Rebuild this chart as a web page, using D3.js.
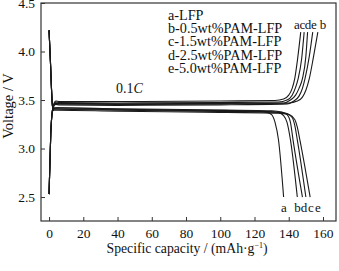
<!DOCTYPE html>
<html>
<head>
<meta charset="utf-8">
<script src="https://cdn.jsdelivr.net/npm/d3@7"></script>
<style>
  body { margin: 0; background: #fff; }
  text { font-family: "Liberation Serif", "Times New Roman", serif; fill: #111; }
</style>
</head>
<body>
<svg width="339" height="271"></svg>
<script>
// charge / discharge curves, [capacity mAh/g, voltage V]
var names = ["a", "b", "c", "d", "e"];
var legendLabels = ["a-LFP", "b-0.5wt%PAM-LFP", "c-1.5wt%PAM-LFP", "d-2.5wt%PAM-LFP", "e-5.0wt%PAM-LFP"];
var xTicks = [0, 20, 40, 60, 80, 100, 120, 140, 160];
var yTicks = [2.5, 3.0, 3.5, 4.0, 4.5];

var chargeA = [[0,2.53],[1,3.15],[2,3.40],[3,3.47],[4,3.49],[6,3.485],[40,3.485],[100,3.49],[132,3.495],[137,3.51],[140,3.55],[142,3.62],[143.5,3.72],[145,3.9],[147,4.2]];
var chargeB = [[0,2.53],[1,3.15],[2,3.39],[3,3.45],[4,3.465],[6,3.46],[40,3.455],[100,3.46],[140,3.47],[145,3.49],[148,3.53],[150,3.6],[152,3.72],[154.5,3.95],[157,4.2]];
var chargeC = [[0,2.53],[1,3.15],[2,3.40],[3,3.46],[4,3.48],[6,3.475],[40,3.47],[100,3.475],[134,3.48],[139,3.5],[142,3.55],[144,3.63],[145.5,3.72],[147.5,3.92],[149,4.2]];
var chargeD = [[0,2.53],[1,3.15],[2,3.40],[3,3.455],[4,3.47],[6,3.465],[40,3.46],[100,3.465],[137,3.47],[141,3.5],[144,3.55],[146,3.62],[148,3.72],[150,3.95],[151,4.2]];
var chargeE = [[0,2.53],[1,3.15],[2,3.39],[3,3.445],[4,3.455],[6,3.45],[40,3.445],[100,3.45],[139,3.46],[143,3.49],[146,3.54],[148,3.62],[149.5,3.72],[152,3.95],[154,4.2]];

var dischargeA = [[0,4.22],[0.8,3.9],[1.6,3.55],[2.2,3.40],[3,3.415],[5,3.42],[40,3.405],[90,3.395],[122,3.385],[127,3.375],[130,3.35],[132,3.27],[134,3.09],[137,2.5]];
var dischargeB = [[0,4.22],[0.8,3.9],[1.6,3.55],[2.2,3.40],[3,3.41],[5,3.41],[40,3.4],[90,3.39],[128,3.38],[134,3.37],[137,3.34],[139,3.27],[141,3.09],[145,2.5]];
var dischargeC = [[0,4.22],[0.8,3.9],[1.6,3.55],[2.2,3.40],[3,3.405],[5,3.405],[40,3.395],[90,3.385],[133,3.375],[139,3.36],[142,3.32],[143.5,3.24],[145,3.09],[150,2.5]];
var dischargeD = [[0,4.22],[0.8,3.9],[1.6,3.55],[2.2,3.40],[3,3.42],[5,3.42],[40,3.41],[90,3.4],[130,3.39],[136,3.375],[139,3.35],[141,3.27],[142.5,3.09],[148,2.5]];
var dischargeE = [[0,4.22],[0.8,3.9],[1.6,3.55],[2.2,3.39],[3,3.395],[5,3.395],[40,3.385],[90,3.375],[134,3.365],[140,3.35],[143.5,3.3],[145,3.22],[146.5,3.09],[152.5,2.5]];

var charge = [chargeA, chargeB, chargeC, chargeD, chargeE];
var discharge = [dischargeA, dischargeB, dischargeC, dischargeD, dischargeE];

// labels at the top end of charge curves, bottom end of discharge curves
var topLabelOrder = ["a", "c", "d", "e", "b"];
var bottomLabelOrder = ["a", "b", "d", "c", "e"];

var svg = d3.select("svg");
// plot box (note: "top" is a reserved window name, so use pTop)
var pLeft = 41, pRight = 336, pTop = 3, pBottom = 221;

var x = d3.scaleLinear().domain([-4.7, 167.6]).range([pLeft, pRight]);
var y = d3.scaleLinear().domain([2.253, 4.5]).range([pBottom, pTop]);

var line = d3.line()
    .x(function(d) { return x(d[0]); })
    .y(function(d) { return y(d[1]); })
    .curve(d3.curveMonotoneX);

var plot = svg.append("g");
plot.selectAll("path.chg").data(charge).enter().append("path")
    .attr("class", "chg")
    .attr("d", line)
    .style("fill", "none")
    .style("stroke", "#1a1a1a")
    .style("stroke-width", 1.1);
plot.selectAll("path.dis").data(discharge).enter().append("path")
    .attr("class", "dis")
    .attr("d", line)
    .style("fill", "none")
    .style("stroke", "#1a1a1a")
    .style("stroke-width", 1.1);

// frame
svg.append("rect")
    .attr("x", pLeft).attr("y", pTop)
    .attr("width", pRight - pLeft).attr("height", pBottom - pTop)
    .style("fill", "none").style("stroke", "#333").style("stroke-width", 1.2);

// axes with inward ticks
var xAxis = d3.axisBottom(x).tickValues(xTicks).tickSizeInner(-4).tickSizeOuter(0).tickPadding(7);
var yAxis = d3.axisLeft(y).tickValues(yTicks).tickSizeInner(-4).tickSizeOuter(0).tickPadding(6)
    .tickFormat(d3.format(".1f"));

var gx = svg.append("g").attr("transform", "translate(0," + pBottom + ")").call(xAxis);
var gy = svg.append("g").attr("transform", "translate(" + pLeft + ",0)").call(yAxis);
[gx, gy].forEach(function(g) {
  g.select(".domain").remove();
  g.selectAll("line").style("stroke", "#333");
  g.selectAll("text").style("font-size", "13.5px").style("font-family", "Liberation Serif, serif").style("fill", "#111");
});

// axis titles
svg.append("text")
    .attr("x", 187).attr("y", 253)
    .style("text-anchor", "middle").style("font-size", "13.7px")
    .html("Specific capacity / (mAh\u00B7g<tspan dy='-5' font-size='8px'>\u22121</tspan><tspan dy='5'>)</tspan>");
svg.append("text")
    .attr("transform", "translate(13,106) rotate(-90)")
    .style("text-anchor", "middle").style("font-size", "14.5px")
    .text("Voltage / V");

// legend
svg.selectAll("text.leg").data(legendLabels).enter().append("text")
    .attr("class", "leg")
    .attr("x", 168)
    .attr("y", function(d, i) { return 19.5 + i * 13.4; })
    .style("font-size", "14.2px")
    .text(function(d) { return d; });

// rate label, italic C
var rate = svg.append("text")
    .attr("x", 116).attr("y", 93)
    .style("font-size", "14px");
rate.append("tspan").text("0.1");
rate.append("tspan").style("font-style", "italic").text("C");

// curve end letters
var topX = [297, 302.5, 308, 314, 323];
svg.selectAll("text.tl").data(topLabelOrder).enter().append("text")
    .attr("class", "tl")
    .attr("x", function(d, i) { return topX[i]; })
    .attr("y", 29)
    .style("text-anchor", "middle").style("font-size", "13px")
    .text(function(d) { return d; });
var botX = [284, 297.5, 304, 311, 318];
svg.selectAll("text.bl").data(bottomLabelOrder).enter().append("text")
    .attr("class", "bl")
    .attr("x", function(d, i) { return botX[i]; })
    .attr("y", 212)
    .style("text-anchor", "middle").style("font-size", "13px")
    .text(function(d) { return d; });
</script>
</body>
</html>
